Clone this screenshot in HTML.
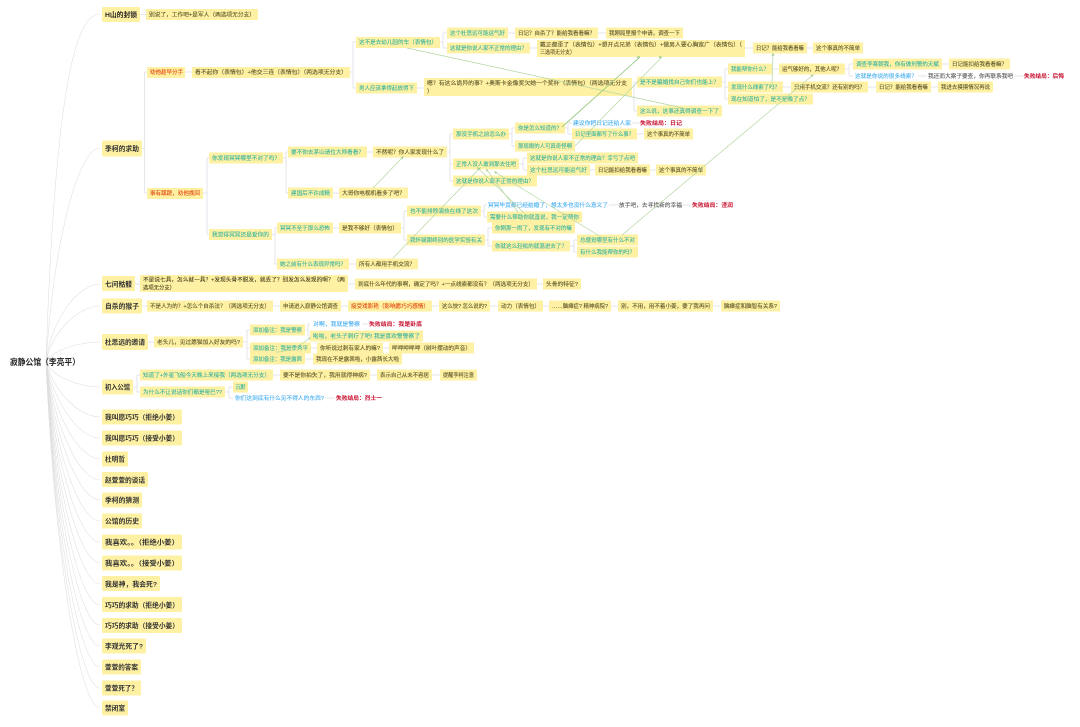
<!DOCTYPE html>
<html><head><meta charset="utf-8"><style>
html,body{margin:0;padding:0;background:#fff;width:1080px;height:727px;overflow:hidden}
svg{display:block;filter:blur(.3px)}
text{font-family:"Liberation Sans","Noto Sans CJK SC",sans-serif;font-size:5.6px;stroke-width:.1px}
rect{fill:#fff1a3}
.t{fill:#5c5428;stroke:#5c5428}.g{fill:#35b3a0;stroke:#35b3a0}.b{fill:#45aef0;stroke:#45aef0}.r{fill:#c8102e;font-weight:bold}.o{fill:#e2480f;stroke:#e2480f}.k{fill:#555;stroke:#555}
.L{fill:#333;font-size:6.7px;font-weight:bold}
.T{fill:none;stroke:#dcdce4;stroke-width:.7}
.R{fill:none;stroke:#dedede;stroke-width:.55}
.G{stroke:#b4d6a2;stroke-width:.7;fill:none}
.A{fill:#a8d094}
</style></head><body>
<svg width="1080" height="727" viewBox="0 0 1080 727" xmlns="http://www.w3.org/2000/svg">
<!-- root curves -->
<g class="R">
<path d="M46 362C56 60 80 14 100 14"/>
<path d="M46 362C55 230 80 148 100 148"/>
<path d="M46 362C52 316 80 284 100 284"/>
<path d="M46 362C52 330 80 306 100 306"/>
<path d="M46 362C52 350 80 342 100 342"/>
<path d="M46 362C52 377 80 387 100 387"/>
<path d="M46 362C55 394 80 417 100 417"/>
<path d="M46 362C55 406 80 438 100 438"/>
<path d="M46 362C55 418 80 459 100 459"/>
<path d="M46 362C55 430 80 480 100 480"/>
<path d="M46 362C55 442 80 500 100 500"/>
<path d="M46 362C55 454 80 521 100 521"/>
<path d="M46 362C55 466 80 542 100 542"/>
<path d="M46 362C55 478 80 563 100 563"/>
<path d="M46 362C55 490 80 584 100 584"/>
<path d="M46 362C55 502 80 605 100 605"/>
<path d="M46 362C55 514 80 625 100 625"/>
<path d="M46 362C55 526 80 646 100 646"/>
<path d="M46 362C55 538 80 667 100 667"/>
<path d="M46 362C55 550 80 688 100 688"/>
<path d="M46 362C55 560 80 708 100 708"/>
</g>
<!-- tree connectors -->
<path class="T" d="M140 14.5H146
M142 148.5H144.5M144.5 72V193M144.5 72H147M144.5 193H147
M185 72H192
M350 72H353M353 42V88M353 42H356M353 88H356
M440 42H443M443 33V48M443 33H447M443 48H447
M508 33H515M598 33H606M530 48H537M745 48H753M807 48H813
M417 88H424
M632 87H634M634 82V111M634 82H637M634 111H637
M722 82H725M725 69V99M725 69H728M725 87H728M725 99H728
M772 69H779M845 69H849M849 64V76M849 64H853M849 76H853
M942 64H949M918 76H927M1014 76H1024
M783 87H791M868 87H876M931 87H938
M203 193H207M207 158V234.5M207 158H209M207 234.5H209
M283 158H286M286 152V193M286 152H288M286 193H288
M367 152H373M333 193H339
M447 152H450M450 134V181M450 134H453M450 164H453M450 181H453
M509 134H512M512 128V146M512 128H515M512 146H515
M565 128H568M568 123V134M568 123H572M568 134H572
M632 123H640M637 134H644
M519 164H523M523 158V170M523 158H527M523 170H527
M590 170H595M650 170H656
M272 234.5H275M275 228V264M275 228H277M275 264H277
M333 228H339M401 228H404M404 211V240M404 211H407M404 240H407
M481 211H484M484 205V217M484 205H487M484 217H487
M609 205H619M682 205H692
M485 240H488M488 228V246M488 228H492M488 246H492
M570 246H574M574 240V252M574 240H577M574 252H577
M349 264H356
M135 284H140M348 284H355M537 284H543
M142 306H147M273 306H280M341 306H348M432 306H439M490 306H498M543 306H549M611 306H618M713 306H721
M148 342H154M243 342H247M247 330V359M247 330H250M247 348H250M247 359H250
M305 330H308M308 324V336M308 324H310M308 336H310
M362 324H368M311 348H317M383 348H389M305 359H313
M133 387H137M137 375V392M137 375H140M137 392H140
M273 375H280M370 375H377M432 375H440
M225 392H229M229 387V398M229 387H233M229 398H233M325 398H335"/>

<!-- level 1 -->
<text x="10" y="365" style="font-size:8.6px;font-weight:bold;fill:#222" textLength="70" lengthAdjust="spacingAndGlyphs">寂静公馆（李亮平）</text>
<rect x="102" y="7" width="38" height="15" rx="1"/><text class="L" x="105" y="17" textLength="32" lengthAdjust="spacingAndGlyphs" style="fill:#222">H山的封锁</text>
<rect x="102" y="140.5" width="40" height="16" rx="1"/><text class="L" x="105" y="151" textLength="34" lengthAdjust="spacingAndGlyphs">季柯的求助</text>
<rect x="102" y="276" width="33" height="15" rx="1"/><text class="L" x="105" y="286.5" textLength="27" lengthAdjust="spacingAndGlyphs">七问骷髅</text>
<rect x="102" y="298.5" width="40" height="15" rx="1"/><text class="L" x="105" y="308.5" textLength="34" lengthAdjust="spacingAndGlyphs">自杀的猴子</text>
<rect x="102" y="334" width="46" height="16" rx="1"/><text class="L" x="105" y="344.5" textLength="40" lengthAdjust="spacingAndGlyphs">杜思远的邀请</text>
<rect x="102" y="379.5" width="31" height="15" rx="1"/><text class="L" x="105" y="389.5" textLength="25" lengthAdjust="spacingAndGlyphs">初入公馆</text>
<rect x="102" y="409.5" width="80" height="15" rx="1"/><text class="L" x="105" y="419.5" textLength="74" lengthAdjust="spacingAndGlyphs">我叫愿巧巧（拒绝小姜）</text>
<rect x="102" y="430.5" width="80" height="15" rx="1"/><text class="L" x="105" y="440.5" textLength="74" lengthAdjust="spacingAndGlyphs">我叫愿巧巧（接受小姜）</text>
<rect x="102" y="451.5" width="26" height="15" rx="1"/><text class="L" x="105" y="461.5" textLength="20" lengthAdjust="spacingAndGlyphs">杜明哲</text>
<rect x="102" y="472" width="46" height="15" rx="1"/><text class="L" x="105" y="482.5" textLength="40" lengthAdjust="spacingAndGlyphs">赵萱萱的谈话</text>
<rect x="102" y="492.5" width="40" height="15" rx="1"/><text class="L" x="105" y="502.5" textLength="34" lengthAdjust="spacingAndGlyphs">季柯的猜测</text>
<rect x="102" y="513.5" width="40" height="15" rx="1"/><text class="L" x="105" y="523.5" textLength="34" lengthAdjust="spacingAndGlyphs">公馆的历史</text>
<rect x="102" y="534.5" width="80" height="15" rx="1"/><text class="L" x="105" y="544.5" textLength="74" lengthAdjust="spacingAndGlyphs">我喜欢。。（拒绝小姜）</text>
<rect x="102" y="555.5" width="80" height="15" rx="1"/><text class="L" x="105" y="565.5" textLength="74" lengthAdjust="spacingAndGlyphs">我喜欢。。（接受小姜）</text>
<rect x="102" y="576" width="58" height="15" rx="1"/><text class="L" x="105" y="586.5" textLength="52" lengthAdjust="spacingAndGlyphs">我是神，我会死?</text>
<rect x="102" y="597" width="80" height="15" rx="1"/><text class="L" x="105" y="607.5" textLength="74" lengthAdjust="spacingAndGlyphs">巧巧的求助（拒绝小姜）</text>
<rect x="102" y="618" width="80" height="15" rx="1"/><text class="L" x="105" y="628" textLength="74" lengthAdjust="spacingAndGlyphs">巧巧的求助（接受小姜）</text>
<rect x="102" y="638.5" width="44" height="15" rx="1"/><text class="L" x="105" y="648.5" textLength="38" lengthAdjust="spacingAndGlyphs">李观光死了?</text>
<rect x="102" y="659.5" width="39" height="15" rx="1"/><text class="L" x="105" y="669.5" textLength="33" lengthAdjust="spacingAndGlyphs">萱萱的答案</text>
<rect x="102" y="680.5" width="39" height="15" rx="1"/><text class="L" x="105" y="690.5" textLength="33" lengthAdjust="spacingAndGlyphs">萱萱死了？</text>
<rect x="102" y="700.5" width="26" height="15" rx="1"/><text class="L" x="105" y="710.5" textLength="20" lengthAdjust="spacingAndGlyphs">禁闭室</text>

<!-- top branch -->
<rect x="146" y="9" width="112" height="11"/><text class="t" x="149" y="16.5" textLength="106" lengthAdjust="spacingAndGlyphs">别说了，工作吧+是军人（两选项无分支）</text>
<rect x="147" y="67" width="38" height="11"/><text class="o" x="150" y="74" textLength="33" lengthAdjust="spacingAndGlyphs">劝他趁早分手</text>
<rect x="192" y="67" width="158" height="11"/><text class="t" x="195" y="74" textLength="152" lengthAdjust="spacingAndGlyphs">看不起你（表情包）+他交三连（表情包）（两选项无分支）</text>
<rect x="147" y="188" width="56" height="11"/><text class="o" x="150" y="195" textLength="50" lengthAdjust="spacingAndGlyphs">事有蹊跷，劝他挽回</text>

<rect x="356" y="37" width="84" height="11"/><text class="g" x="359" y="44" textLength="78" lengthAdjust="spacingAndGlyphs">这不是去幼儿园的车（表情包）</text>
<rect x="356" y="82.5" width="61" height="11"/><text class="g" x="359" y="90" textLength="55" lengthAdjust="spacingAndGlyphs">男人应该拿得起放得下</text>
<rect x="447" y="27.5" width="61" height="11"/><text class="g" x="450" y="35" textLength="55" lengthAdjust="spacingAndGlyphs">这个杜思远可能运气好</text>
<rect x="447" y="42.5" width="83" height="11"/><text class="g" x="450" y="50" textLength="77" lengthAdjust="spacingAndGlyphs">这就是你说人家不正常的理由？</text>
<rect x="515" y="27.5" width="83" height="11"/><text class="t" x="518" y="35" textLength="77" lengthAdjust="spacingAndGlyphs">日记？自杀了？能给我看看嘛？</text>
<rect x="606" y="27.5" width="77" height="11"/><text class="t" x="609" y="35" textLength="71" lengthAdjust="spacingAndGlyphs">我刚局里报个申请，调查一下</text>
<rect x="537" y="40" width="208" height="17"/><text class="t" x="540" y="46.5" textLength="202" lengthAdjust="spacingAndGlyphs">戴正都歪了（表情包）+想开点兄弟（表情包）+做男人要心胸宽广（表情包）（</text><text class="t" x="540" y="54" textLength="35" lengthAdjust="spacingAndGlyphs">三选项无分支）</text>
<rect x="753" y="42.5" width="54" height="11"/><text class="t" x="756" y="50" textLength="48" lengthAdjust="spacingAndGlyphs">日记？能给我看看嘛</text>
<rect x="813" y="42.5" width="50" height="11"/><text class="t" x="816" y="50" textLength="44" lengthAdjust="spacingAndGlyphs">这个事真的不简单</text>
<rect x="424" y="78" width="208" height="18"/><text class="t" x="427" y="85" textLength="200" lengthAdjust="spacingAndGlyphs">嗯？有这么诡异的事？+奥斯卡金像奖欠她一个奖杯（表情包）（两选项无分支</text><text class="t" x="427" y="93" textLength="5">）</text>
<rect x="637" y="76.5" width="85" height="11"/><text class="g" x="640" y="84" textLength="79" lengthAdjust="spacingAndGlyphs">是不是骗婚找自己你们也能上？</text>
<rect x="637" y="105.5" width="85" height="11"/><text class="g" x="640" y="113" textLength="79" lengthAdjust="spacingAndGlyphs">这么说，这事还真得调查一下了</text>
<rect x="728" y="63.5" width="44" height="11"/><text class="g" x="731" y="71" textLength="38" lengthAdjust="spacingAndGlyphs">我能帮你什么？</text>
<rect x="728" y="81.5" width="55" height="11"/><text class="g" x="731" y="89" textLength="49" lengthAdjust="spacingAndGlyphs">发现什么线索了吗？</text>
<rect x="728" y="93.5" width="85" height="11"/><text class="g" x="731" y="101" textLength="79" lengthAdjust="spacingAndGlyphs">现在知道怕了，是不是晚了点？</text>
<rect x="779" y="63.5" width="66" height="11"/><text class="t" x="782" y="71" textLength="60" lengthAdjust="spacingAndGlyphs">运气够好的，其他人呢？</text>
<rect x="791" y="81.5" width="77" height="11"/><text class="t" x="794" y="89" textLength="71" lengthAdjust="spacingAndGlyphs">只用手机交流？还有别的吗？</text>
<rect x="876" y="81.5" width="55" height="11"/><text class="t" x="879" y="89" textLength="49" lengthAdjust="spacingAndGlyphs">日记？能给我看看嘛</text>
<rect x="938" y="81.5" width="55" height="11"/><text class="t" x="941" y="89" textLength="49" lengthAdjust="spacingAndGlyphs">我进去摸摸情况再说</text>
<rect x="853" y="58.5" width="89" height="11"/><text class="g" x="856" y="66" textLength="83" lengthAdjust="spacingAndGlyphs">调查李寒朝我，你有做刑警的天赋</text>
<rect x="949" y="58.5" width="61" height="11"/><text class="t" x="952" y="66" textLength="55" lengthAdjust="spacingAndGlyphs">日记能扣给我看看嘛？</text>
<text class="b" x="855" y="78" textLength="62" lengthAdjust="spacingAndGlyphs">这就是你说的很多线索？</text>
<text class="k" x="928" y="78" textLength="85" lengthAdjust="spacingAndGlyphs">我还而大案子要查，你再联系我吧</text>
<text class="r" x="1024" y="78" textLength="40" lengthAdjust="spacingAndGlyphs">失败结局：后悔</text>

<!-- middle branch -->
<rect x="209" y="152.5" width="74" height="11"/><text class="g" x="212" y="160" textLength="68" lengthAdjust="spacingAndGlyphs">你发现冥冥哪里不对了吗？</text>
<rect x="209" y="229" width="63" height="11"/><text class="g" x="212" y="236.5" textLength="57" lengthAdjust="spacingAndGlyphs">我觉得冥冥还是爱你的</text>
<rect x="288" y="146.5" width="79" height="11"/><text class="g" x="291" y="154" textLength="73" lengthAdjust="spacingAndGlyphs">要不你去茅山请位大师看看？</text>
<rect x="288" y="187.5" width="45" height="11"/><text class="g" x="291" y="195" textLength="39" lengthAdjust="spacingAndGlyphs">建国后不许成精</text>
<rect x="339" y="187.5" width="69" height="11"/><text class="t" x="342" y="195" textLength="63" lengthAdjust="spacingAndGlyphs">大哥你电视机看多了吧？</text>
<rect x="373" y="146.5" width="74" height="11"/><text class="t" x="376" y="154" textLength="68" lengthAdjust="spacingAndGlyphs">不然呢？你人家发现什么了</text>
<rect x="277" y="222.5" width="56" height="11"/><text class="g" x="280" y="230" textLength="50" lengthAdjust="spacingAndGlyphs">冥冥不至于那么恐怖</text>
<rect x="339" y="222.5" width="62" height="11"/><text class="t" x="342" y="230" textLength="56" lengthAdjust="spacingAndGlyphs">是我不够好（表情包）</text>
<rect x="277" y="258.5" width="72" height="11"/><text class="g" x="280" y="266" textLength="66" lengthAdjust="spacingAndGlyphs">她之前有什么表现异常吗？</text>
<rect x="356" y="258.5" width="62" height="11"/><text class="t" x="359" y="266" textLength="56" lengthAdjust="spacingAndGlyphs">所有人都用手机交流？</text>
<rect x="407" y="205.5" width="74" height="11"/><text class="g" x="410" y="213" textLength="68" lengthAdjust="spacingAndGlyphs">也不能排除演技在线了这次</text>
<rect x="407" y="234.5" width="78" height="11"/><text class="g" x="410" y="242" textLength="72" lengthAdjust="spacingAndGlyphs">我怀疑跟终别的医学实验有关</text>
<rect x="453" y="128.5" width="56" height="11"/><text class="g" x="456" y="136" textLength="50" lengthAdjust="spacingAndGlyphs">那没手机之前怎么办</text>
<rect x="453" y="158.5" width="66" height="11"/><text class="g" x="456" y="166" textLength="60" lengthAdjust="spacingAndGlyphs">正常人没人敢到那去住吧</text>
<rect x="453" y="175.5" width="84" height="11"/><text class="g" x="456" y="183" textLength="78" lengthAdjust="spacingAndGlyphs">这就是你说人家不正常的理由？</text>
<rect x="515" y="122.5" width="50" height="11"/><text class="g" x="518" y="130" textLength="44" lengthAdjust="spacingAndGlyphs">你是怎么知道的？</text>
<rect x="515" y="140.5" width="60" height="11"/><text class="g" x="518" y="148" textLength="54" lengthAdjust="spacingAndGlyphs">那现眼的人可真奇怪啊</text>
<text class="b" x="573" y="125" textLength="58" lengthAdjust="spacingAndGlyphs">建议你把日记还给人家</text>
<text class="r" x="640" y="125" textLength="42" lengthAdjust="spacingAndGlyphs">失败结局：日记</text>
<rect x="572" y="128.5" width="65" height="11"/><text class="g" x="575" y="136" textLength="59" lengthAdjust="spacingAndGlyphs">日记里面都写了什么事？</text>
<rect x="644" y="128.5" width="49" height="11"/><text class="t" x="647" y="136" textLength="43" lengthAdjust="spacingAndGlyphs">这个事真的不简单</text>
<rect x="527" y="152.5" width="111" height="11"/><text class="g" x="530" y="160" textLength="105" lengthAdjust="spacingAndGlyphs">这就是你说人家不正常的理由？幸亏了点吧</text>
<rect x="527" y="164.5" width="63" height="11"/><text class="g" x="530" y="172" textLength="57" lengthAdjust="spacingAndGlyphs">这个杜思远可能运气好</text>
<rect x="595" y="164.5" width="55" height="11"/><text class="t" x="598" y="172" textLength="49" lengthAdjust="spacingAndGlyphs">日记能扣给我看看嘛</text>
<rect x="656" y="164.5" width="50" height="11"/><text class="t" x="659" y="172" textLength="44" lengthAdjust="spacingAndGlyphs">这个事真的不简单</text>
<text class="b" x="488" y="207" textLength="120" lengthAdjust="spacingAndGlyphs">冥冥毕竟都已经结婚了，想太多也没什么意义了</text>
<text class="k" x="619" y="207" textLength="63" lengthAdjust="spacingAndGlyphs">放手吧，去寻找新的幸福</text>
<text class="r" x="692" y="207" textLength="41" lengthAdjust="spacingAndGlyphs">失败结局：渣润</text>
<rect x="487" y="211.5" width="95" height="11"/><text class="g" x="490" y="219" textLength="89" lengthAdjust="spacingAndGlyphs">需要什么帮助你就直说，我一定帮你</text>
<rect x="492" y="222.5" width="83" height="11"/><text class="g" x="495" y="230" textLength="77" lengthAdjust="spacingAndGlyphs">你刚那一闹了，发现有不对的嘛</text>
<rect x="492" y="240.5" width="78" height="11"/><text class="g" x="495" y="248" textLength="72" lengthAdjust="spacingAndGlyphs">你就这么轻松的就混进去了？</text>
<rect x="577" y="234.5" width="61" height="11"/><text class="g" x="580" y="242" textLength="55" lengthAdjust="spacingAndGlyphs">总感觉哪里有什么不对</text>
<rect x="577" y="246.5" width="61" height="11"/><text class="g" x="580" y="254" textLength="55" lengthAdjust="spacingAndGlyphs">有什么我能帮你的吗？</text>

<!-- 七问骷髅 -->
<rect x="140" y="275" width="208" height="17"/><text class="t" x="143" y="281.5" textLength="202" lengthAdjust="spacingAndGlyphs" style="fill:#3a3518">不是说七具，怎么就一具？+发现头骨不脱发，就丢了？别发怎么发现的啊？（两</text><text class="t" x="143" y="289.5" textLength="32" lengthAdjust="spacingAndGlyphs" style="fill:#3a3518">选项无分支）</text>
<rect x="355" y="278.5" width="182" height="11"/><text class="t" x="358" y="286" textLength="176" lengthAdjust="spacingAndGlyphs">到底什么年代的事啊，确定了吗？+一点线索都没有？（两选项无分支）</text>
<rect x="543" y="278.5" width="38" height="11"/><text class="t" x="546" y="286" textLength="32" lengthAdjust="spacingAndGlyphs">头骨的特征?</text>
<!-- 自杀的猴子 -->
<rect x="147" y="300.5" width="126" height="11"/><text class="t" x="150" y="308" textLength="120" lengthAdjust="spacingAndGlyphs">不是人为的？+怎么个自杀法？（两选项无分支）</text>
<rect x="280" y="300.5" width="61" height="11"/><text class="t" x="283" y="308" textLength="55" lengthAdjust="spacingAndGlyphs">申请进入寂静公馆调查</text>
<rect x="348" y="300.5" width="84" height="11"/><text class="o" x="351" y="308" textLength="78" lengthAdjust="spacingAndGlyphs">接受戏影艳（影响愿巧巧感情）</text>
<rect x="439" y="300.5" width="51" height="11"/><text class="t" x="442" y="308" textLength="45" lengthAdjust="spacingAndGlyphs">这么快? 怎么说的?</text>
<rect x="498" y="300.5" width="45" height="11"/><text class="t" x="501" y="308" textLength="39" lengthAdjust="spacingAndGlyphs">动力（表情包）</text>
<rect x="549" y="300.5" width="62" height="11"/><text class="t" x="552" y="308" textLength="56" lengthAdjust="spacingAndGlyphs">……脑瘫症? 精神病院?</text>
<rect x="618" y="300.5" width="95" height="11"/><text class="t" x="621" y="308" textLength="89" lengthAdjust="spacingAndGlyphs">别，不用，用不着小姜，要了我再问</text>
<rect x="721" y="300.5" width="59" height="11"/><text class="t" x="724" y="308" textLength="53" lengthAdjust="spacingAndGlyphs">脑瘫症和脑智有关系?</text>
<!-- 杜思远 -->
<rect x="154" y="336.5" width="89" height="11"/><text class="t" x="157" y="344" textLength="83" lengthAdjust="spacingAndGlyphs">老头儿，见过愿猫加入好友的吗?</text>
<rect x="250" y="324.5" width="55" height="11"/><text class="g" x="253" y="332" textLength="49" lengthAdjust="spacingAndGlyphs">添加备注：我是警察</text>
<rect x="250" y="342.5" width="61" height="11"/><text class="g" x="253" y="350" textLength="55" lengthAdjust="spacingAndGlyphs">添加备注：我是季秀平</text>
<rect x="250" y="353.5" width="55" height="11"/><text class="g" x="253" y="361" textLength="49" lengthAdjust="spacingAndGlyphs">添加备注：我是露茜</text>
<text class="b" x="313" y="326" textLength="47" lengthAdjust="spacingAndGlyphs">对啊，我就是警察</text>
<text class="r" x="369" y="326" textLength="53" lengthAdjust="spacingAndGlyphs">失败结局：我是卧底</text>
<rect x="310" y="330.5" width="113" height="11"/><text class="g" x="313" y="338" textLength="107" lengthAdjust="spacingAndGlyphs">啦啦，老头子刺疗了吧! 我是喜欢警警察了</text>
<rect x="317" y="342.5" width="66" height="11"/><text class="t" x="320" y="350" textLength="60" lengthAdjust="spacingAndGlyphs">你听说过刺有家人的嘛?</text>
<rect x="389" y="342.5" width="85" height="11"/><text class="t" x="392" y="350" textLength="79" lengthAdjust="spacingAndGlyphs">呷呷呷呷呷（树叶摆动的声音）</text>
<rect x="313" y="353.5" width="89" height="11"/><text class="t" x="316" y="361" textLength="83" lengthAdjust="spacingAndGlyphs">我现在不是露茜啦，小露茜长大啦</text>
<!-- 初入公馆 -->
<rect x="140" y="369.5" width="133" height="11"/><text class="g" x="143" y="377" textLength="127" lengthAdjust="spacingAndGlyphs">知道了+外星飞船今天晚上来接我（两选项无分支）</text>
<rect x="280" y="369.5" width="90" height="11"/><text class="t" x="283" y="377" textLength="84" lengthAdjust="spacingAndGlyphs">要不是你拍失了，我用就得神病?</text>
<rect x="377" y="369.5" width="55" height="11"/><text class="t" x="380" y="377" textLength="49" lengthAdjust="spacingAndGlyphs">表示自己从未不容居</text>
<rect x="440" y="369.5" width="37" height="11"/><text class="t" x="443" y="377" textLength="31" lengthAdjust="spacingAndGlyphs">提醒李柯注意</text>
<rect x="140" y="386.5" width="85" height="11"/><text class="g" x="143" y="394" textLength="79" lengthAdjust="spacingAndGlyphs">为什么不让说话你们都是哑巴??</text>
<rect x="233" y="381.5" width="15" height="11"/><text class="g" x="235.500" y="389" textLength="10" lengthAdjust="spacingAndGlyphs">沉默</text>
<text class="b" x="235" y="400" textLength="89" lengthAdjust="spacingAndGlyphs">你们这到底有什么见不得人的东西?</text>
<text class="r" x="336" y="400" textLength="46" lengthAdjust="spacingAndGlyphs">失败结局：烈士一</text>

<!-- green links -->
<g class="G">
<path d="M407 48L683 108"/>
<path d="M562 127L640 57" style="stroke:#9cca82;stroke-width:.9"/>
<path d="M575 146L662 57"/>
<path d="M393 258L480 168"/>
<path d="M373 188L403 157"/>
<path d="M606 240L495 172"/>
<path d="M518 212L487 170"/>
<path d="M524 213L478 168"/>
<path d="M622 235L813 75"/>
<path d="M772 83L773 54"/>
<path d="M276 352Q292 352 310 338"/>
</g>
<g class="A">
<path d="M640 55.500l-3.500 1.500 1.800 2z"/>
<path d="M662 55.500l-3.500 1.500 1.800 2z"/>
<path d="M481 167l-3.500 1.500 1.800 2z"/>
<path d="M404 156l-3.500 1.500 1.800 2z"/>
<path d="M494 171l1.500 3 1.800-2z"/>
<path d="M486 168.500l.5 3.300 2-1.300z"/>
<path d="M477 167l.8 3.300 2-1.700z"/>
<path d="M814 74l-3.500 1.200 1.600 2z"/>
<path d="M773 52.500l-1.500 3.300h3z"/>
<path d="M311 337l-3 1 1.400 1.900z"/>
</g>
</svg>
</body></html>
